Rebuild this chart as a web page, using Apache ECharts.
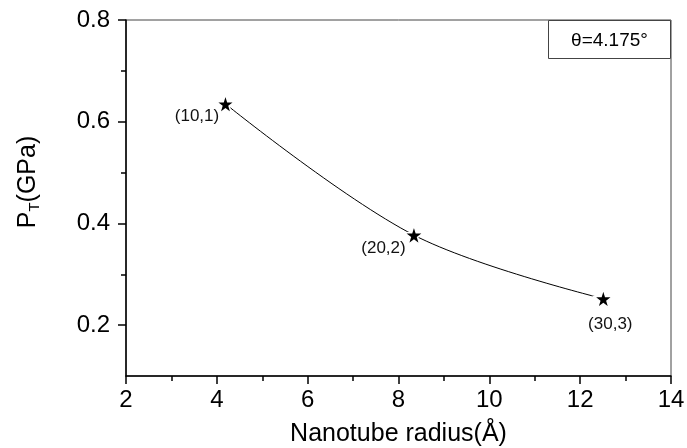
<!DOCTYPE html>
<html>
<head>
<meta charset="utf-8">
<script src="https://cdn.jsdelivr.net/npm/echarts@6/dist/echarts.min.js"></script>
<style>html,body{margin:0;padding:0;background:#fff}#c{width:687px;height:448px}</style>
</head>
<body>
<div id="c"></div>
<script>
var radius = [4.19, 8.34, 12.51];
var pressure = [0.635, 0.377, 0.252];
var pointLabels = ['(10,1)', '(20,2)', '(30,3)'];
var yTickValues = [0.2, 0.4, 0.6, 0.8];
var yMinorValues = [0.3, 0.5, 0.7];
var annotation = 'θ=4.175°';

var FONT = '"Liberation Sans", Arial, sans-serif';
var star = 'path://M50,0 L61.2,34.5 L97.6,34.5 L68.2,55.9 L79.4,90.5 L50,69.1 L20.6,90.5 L31.8,55.9 L2.4,34.5 L38.8,34.5 Z';
var labelCfg = [
  {position: 'left', distance: 0, offset: [4, 12]},
  {position: 'left', distance: 0, offset: [2, 13]},
  {position: 'bottom', distance: 4, offset: [7, 3]}
];
var data = radius.map(function (x, i) {
  return {
    value: [x, pressure[i]],
    label: Object.assign({show: true, formatter: pointLabels[i], fontSize: 17, color: '#111', fontFamily: FONT}, labelCfg[i])
  };
});

var chart = echarts.init(document.getElementById('c'), null, {renderer: 'canvas'});
chart.setOption({
  animation: false,
  backgroundColor: '#fff',
  grid: {left: 126, right: 16, top: 20, bottom: 72, outerBoundsMode: 'none', containLabel: false,
    show: true, borderColor: '#444', borderWidth: 1, backgroundColor: 'transparent'},
  xAxis: {
    type: 'value', min: 2, max: 14, interval: 2,
    name: 'Nanotube radius(Å)', nameLocation: 'middle', nameGap: 46,
    nameTextStyle: {fontSize: 25, color: '#000', fontFamily: FONT},
    axisLine: {show: true, lineStyle: {color: '#000', width: 1.5}},
    axisTick: {show: true, inside: false, length: 8, lineStyle: {color: '#000', width: 1.5}},
    minorTick: {show: true, splitNumber: 2, length: 5, lineStyle: {color: '#000', width: 1.5}},
    axisLabel: {fontSize: 24, color: '#000', fontFamily: FONT, margin: 12},
    splitLine: {show: false}
  },
  yAxis: [{
    type: 'value', min: 0.1, max: 0.8,
    name: 'P{sub|T}(GPa)', nameLocation: 'middle', nameGap: 84, nameRotate: 90,
    nameTextStyle: {fontSize: 25, color: '#000', fontFamily: FONT, padding: [0, 0, 0, 32],
      rich: {sub: {fontSize: 15, color: '#000', fontFamily: FONT, verticalAlign: 'bottom', padding: [12, 0, 0, 0]}}},
    axisLine: {show: true, lineStyle: {color: '#000', width: 1.5}},
    axisTick: {show: true, length: 8, customValues: yTickValues, lineStyle: {color: '#000', width: 1.5}},
    axisLabel: {fontSize: 24, color: '#000', fontFamily: FONT, margin: 16, customValues: yTickValues,
      formatter: function (v) { return v.toFixed(1); }},
    splitLine: {show: false}
  }, {
    type: 'value', min: 0.1, max: 0.8, position: 'left',
    axisLine: {show: false},
    axisTick: {show: true, length: 5, customValues: yMinorValues, lineStyle: {color: '#000', width: 1.5}},
    axisLabel: {show: false},
    splitLine: {show: false}
  }],
  graphic: [{
    type: 'group', right: 16, top: 20,
    children: [
      {type: 'rect', shape: {x: 0, y: 0, width: 122, height: 38}, style: {fill: '#fff', stroke: '#444', lineWidth: 1}},
      {type: 'text', x: 61, y: 20, style: {text: annotation, font: '19px ' + FONT, fill: '#000', align: 'center', verticalAlign: 'middle'}}
    ]
  }],
  series: [{
    type: 'line', xAxisIndex: 0, yAxisIndex: 0,
    data: data, smooth: 0.35,
    symbol: star, symbolSize: 19,
    lineStyle: {color: '#000', width: 1},
    itemStyle: {color: '#000', borderColor: '#fff', borderWidth: 1.5}
  }]
});
</script>
</body>
</html>
